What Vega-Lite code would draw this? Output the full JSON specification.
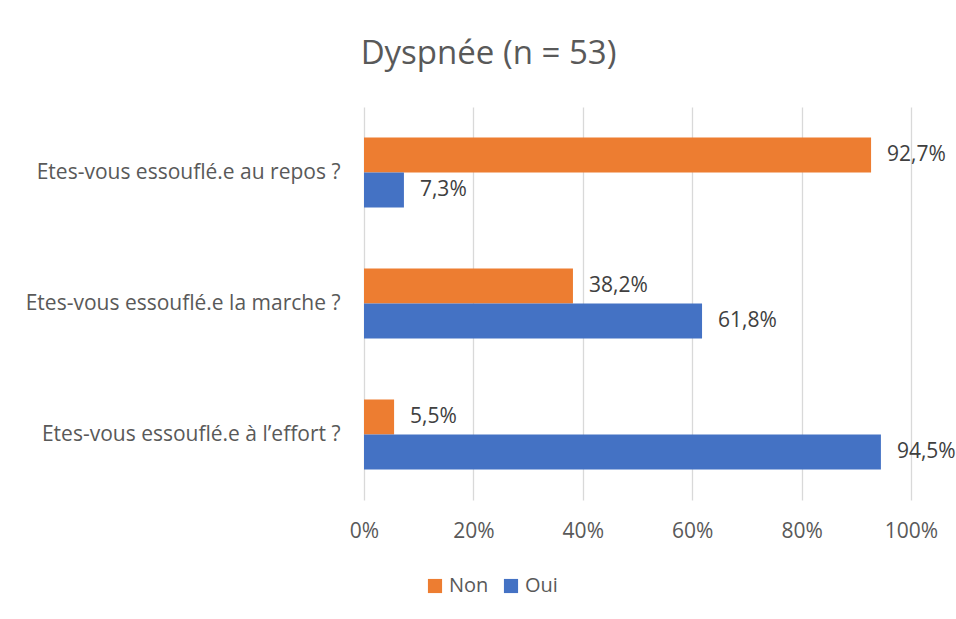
{
  "$schema": "https://vega.github.io/schema/vega-lite/v6.json",
  "width": 547,
  "height": 393,
  "autosize": {"type": "none"},
  "padding": {"left": 364, "top": 107, "right": 45, "bottom": 119},
  "background": "white",
  "title": {
    "text": "Dyspnée (n = 53)",
    "font": "Open Sans",
    "fontSize": 33,
    "fontWeight": "normal",
    "color": "#595959",
    "anchor": "middle",
    "dx": -149,
    "baseline": "alphabetic",
    "offset": 10
  },
  "data": {
    "values": [
      {"question": "Etes-vous essouflé.e au repos ?", "serie": "Non", "value": 0.927, "label": "92,7%"},
      {"question": "Etes-vous essouflé.e au repos ?", "serie": "Oui", "value": 0.073, "label": "7,3%"},
      {"question": "Etes-vous essouflé.e la marche ?", "serie": "Non", "value": 0.382, "label": "38,2%"},
      {"question": "Etes-vous essouflé.e la marche ?", "serie": "Oui", "value": 0.618, "label": "61,8%"},
      {"question": "Etes-vous essouflé.e à l’effort ?", "serie": "Non", "value": 0.055, "label": "5,5%"},
      {"question": "Etes-vous essouflé.e à l’effort ?", "serie": "Oui", "value": 0.945, "label": "94,5%"}
    ]
  },
  "encoding": {
    "y": {
      "field": "question",
      "type": "nominal",
      "sort": ["Etes-vous essouflé.e au repos ?", "Etes-vous essouflé.e la marche ?", "Etes-vous essouflé.e à l’effort ?"],
      "scale": {"paddingInner": 0.466, "paddingOuter": 0.233},
      "axis": {
        "title": null,
        "domain": false,
        "ticks": false,
        "labelPadding": 24,
        "labelFont": "Open Sans",
        "labelFontSize": 21,
        "labelColor": "#595959",
        "labelLimit": 400
      }
    },
    "yOffset": {
      "field": "serie",
      "type": "nominal",
      "sort": ["Non", "Oui"],
      "scale": {"paddingInner": 0, "paddingOuter": 0}
    },
    "x": {
      "field": "value",
      "type": "quantitative",
      "scale": {"domain": [0, 1], "nice": false},
      "axis": {
        "title": null,
        "values": [0, 0.2, 0.4, 0.6, 0.8, 1],
        "format": ".0%",
        "domain": false,
        "ticks": false,
        "grid": true,
        "gridColor": "#D9D9D9",
        "gridWidth": 1.3,
        "labelPadding": 20,
        "labelFlush": false,
        "labelOverlap": false,
        "labelFont": "Open Sans",
        "labelFontSize": 21,
        "labelColor": "#595959"
      }
    }
  },
  "layer": [
    {
      "mark": {"type": "bar"},
      "encoding": {
        "color": {
          "field": "serie",
          "type": "nominal",
          "scale": {"domain": ["Non", "Oui"], "range": ["#ED7D31", "#4472C4"]},
          "legend": {
            "title": null,
            "orient": "none",
            "direction": "horizontal",
            "legendX": 61,
            "legendY": 469,
            "padding": 0,
            "symbolType": "square",
            "symbolSize": 200,
            "symbolStrokeWidth": 0,
            "labelFont": "Open Sans",
            "labelFontSize": 20,
            "labelColor": "#595959",
            "labelOffset": 4,
            "columnPadding": 12
          }
        }
      }
    },
    {
      "mark": {"type": "text", "align": "left", "baseline": "middle", "dx": 16, "font": "Open Sans", "fontSize": 21, "color": "#404040"},
      "encoding": {
        "text": {"field": "label", "type": "nominal"}
      }
    }
  ],
  "config": {
    "view": {"stroke": null},
    "axis": {"labelFont": "Open Sans"}
  }
}
